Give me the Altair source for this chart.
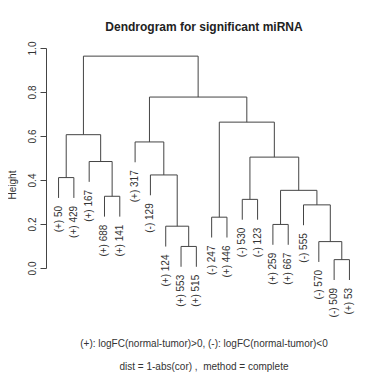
import altair as alt
import pandas as pd

# Leaves in display order (1-based indices used in the merge table)
leaf_labels = ["(+) 50", "(+) 429", "(+) 167", "(+) 688", "(+) 141", "(+) 317",
               "(-) 129", "(+) 124", "(+) 553", "(+) 515", "(-) 247", "(+) 446",
               "(-) 530", "(-) 123", "(+) 259", "(+) 667", "(-) 555", "(-) 570",
               "(-) 509", "(+) 53"]
# R-style merge table: negative = leaf, positive = earlier merge step
merge_left = [-19, -9, -18, -8, -15, -11, -17, -13, -4, 5, -1, -7, -3, 8, -6, 11, 6, 15, 16]
merge_right = [-20, -10, 1, 2, -16, -12, 3, -14, -5, 7, -2, 4, 9, 10, 12, 13, 14, 17, 18]
merge_height = [0.038, 0.098, 0.120, 0.190, 0.198, 0.231, 0.287, 0.312, 0.326, 0.353,
                0.411, 0.423, 0.484, 0.504, 0.573, 0.606, 0.663, 0.777, 0.963]
y_ticks = [0.0, 0.2, 0.4, 0.6, 0.8, 1.0]
title_text = "Dendrogram for significant miRNA"
footer_lines = ["(+): logFC(normal-tumor)>0, (-): logFC(normal-tumor)<0",
                "dist = 1-abs(cor) ,\u00a0 method = complete"]

hang = 0.1 * (max(merge_height) - min(merge_height))

segs = []
leaf_rows = []
node_x = {}
for i, (a, b, h) in enumerate(zip(merge_left, merge_right, merge_height), start=1):
    xs = []
    for c in (a, b):
        if c < 0:
            cx = -c - 1
            bottom = h - hang
            leaf_rows.append({"x": cx, "y": bottom, "label": leaf_labels[-c - 1]})
        else:
            cx = node_x[c]
            bottom = merge_height[c - 1]
        segs.append({"x": cx, "x2": cx, "y": bottom, "y2": h})
        xs.append(cx)
    segs.append({"x": xs[0], "x2": xs[1], "y": h, "y2": h})
    node_x[i] = (xs[0] + xs[1]) / 2

seg_df = pd.DataFrame(segs)
leaf_df = pd.DataFrame(leaf_rows)

W, H = 316, 220
FONT = "Liberation Sans"
xscale = alt.Scale(domain=[-0.82, 19.82], nice=False, zero=False)
yscale = alt.Scale(domain=[0, 1], nice=False, zero=False)

lines = alt.Chart(seg_df).mark_rule(color="#444444", strokeWidth=1).encode(
    x=alt.X("x:Q", scale=xscale, axis=None),
    x2="x2:Q",
    y=alt.Y("y:Q", scale=yscale, axis=alt.Axis(
        values=y_ticks, format=".1f", title=None, grid=False,
        labelAngle=270, labelAlign="center", labelBaseline="bottom",
        labelFontSize=10, labelFont=FONT, labelColor="#333333",
        tickSize=6, tickColor="#444444", domainColor="#444444",
        labelPadding=3, labelFlush=False, labelOverlap=False)),
    y2="y2:Q",
)

labels = alt.Chart(leaf_df).mark_text(
    angle=270, align="right", baseline="middle", dx=-8,
    fontSize=10, font=FONT, color="#333333"
).encode(x=alt.X("x:Q", scale=xscale), y=alt.Y("y:Q", scale=yscale), text="label:N")

foot_df = pd.DataFrame({"t": footer_lines, "py": [296, 319]})
footer = alt.Chart(foot_df).mark_text(
    align="center", baseline="middle", fontSize=10, font=FONT, color="#333333"
).encode(x=alt.value(W / 2), y=alt.Y("py:Q", scale=None), text="t:N")

ylab = alt.Chart(pd.DataFrame({"t": ["Height"]})).mark_text(
    angle=270, align="center", baseline="middle", fontSize=10, font=FONT, color="#333333"
).encode(x=alt.value(-33), y=alt.value(137), text="t:N")

chart = alt.layer(lines, labels, footer, ylab).properties(
    width=W, height=H,
    title=alt.TitleParams(title_text, fontSize=12, font=FONT, fontWeight="bold",
                          color="#222222", anchor="middle", offset=7),
    autosize=alt.AutoSizeParams(type="none"),
    padding={"left": 38, "top": 40, "right": 15, "bottom": 105},
).configure_view(stroke=None)

chart.save("out.html", embed_options={"renderer": "svg", "actions": False})
